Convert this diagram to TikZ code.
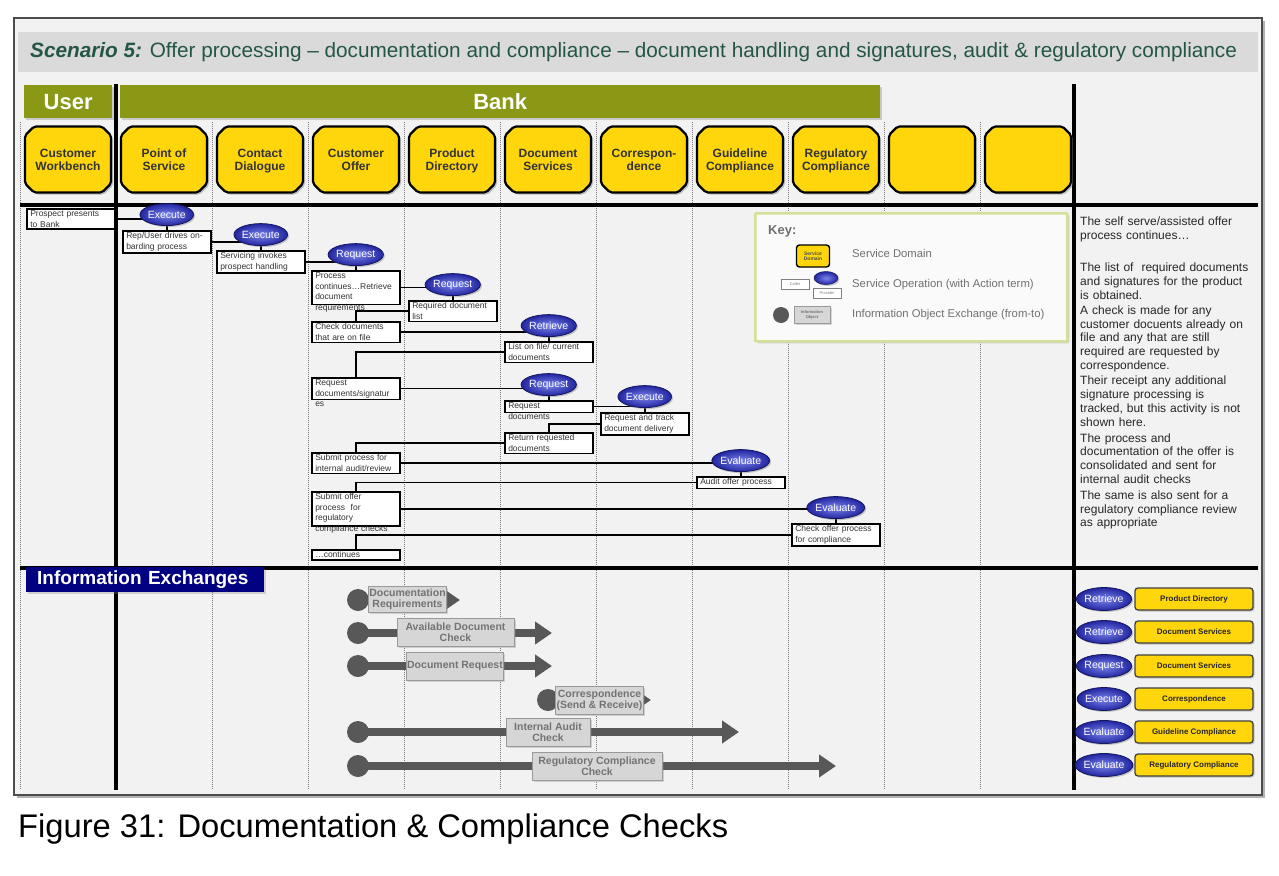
\documentclass[tikz,border=0pt]{standalone}
\usepackage{fontspec}
\setmainfont{Liberation Sans}
\usepackage{xcolor}
\usepackage{tikz}
\usetikzlibrary{shapes.geometric, shapes.misc, arrows.meta, positioning, shadows}
\definecolor{olivehead}{RGB}{138,152,22}
\definecolor{sdyellow}{RGB}{255,214,12}
\definecolor{opblue}{RGB}{34,38,160}
\definecolor{oplight}{RGB}{122,132,236}
\definecolor{navyhead}{RGB}{0,0,128}
\definecolor{titlegreen}{RGB}{36,86,70}
\definecolor{panelgray}{RGB}{242,242,242}
\definecolor{bandgray}{RGB}{218,218,218}
\definecolor{ixgray}{RGB}{88,88,88}
\definecolor{ixfill}{RGB}{214,214,214}
\definecolor{keyedge}{RGB}{212,224,150}
\definecolor{keytext}{RGB}{112,112,112}
\definecolor{lanegray}{RGB}{120,120,120}
\pgfdeclarelayer{lanes}
\pgfdeclarelayer{wires}
\pgfsetlayers{lanes,wires,main}
\tikzset{
  frame/.style={draw=black!70, line width=2pt, fill=panelgray,
    drop shadow={shadow xshift=3pt, shadow yshift=-3pt, opacity=0.6}},
  header/.style={fill=olivehead, text=white, inner sep=0pt, anchor=north west,
    minimum height=33pt, font=\fontsize{22}{24}\selectfont\bfseries,
    drop shadow={shadow xshift=2pt, shadow yshift=-2pt, opacity=0.35}},
  infohead/.style={fill=navyhead, text=white, anchor=north west, inner xsep=11pt,
    inner ysep=0pt, minimum height=25pt, text width=216pt, align=left,
    font=\fontsize{19}{20}\selectfont\bfseries,
    drop shadow={shadow xshift=2pt, shadow yshift=-2pt, opacity=0.3}},
  sdbox/.style={chamfered rectangle, chamfered rectangle xsep=4.5pt,
    chamfered rectangle ysep=4.5pt, rounded corners=2pt, draw=black,
    line width=2.2pt, fill=sdyellow, minimum width=86pt, minimum height=66pt,
    inner sep=0pt, align=center, text=black!80,
    text height=22.5pt, text depth=0.5pt,
    font=\fontsize{12}{13.5}\selectfont\bfseries,
    drop shadow={shadow xshift=2pt, shadow yshift=-2pt, opacity=0.45}},
  msgbox/.style={draw, line width=1.5pt, fill=white, anchor=north west,
    text width=81pt, inner xsep=3.5pt, inner ysep=2pt, align=left,
    text=black!80, font=\fontsize{8.5}{10.5}\selectfont},
  op/.style={ellipse, minimum width=52pt, minimum height=22pt, inner sep=0pt,
    draw=opblue!60!black, line width=0.8pt, inner color=oplight,
    outer color=opblue, text=white, font=\fontsize{10.5}{12}\selectfont,
    drop shadow={shadow xshift=1.5pt, shadow yshift=-1.5pt, opacity=0.4}},
  wire/.style={line width=1.5pt, black},
  lane/.style={lanegray, line width=0.8pt, dash pattern=on 1pt off 1pt},
  divider/.style={black, line width=3.5pt},
  keyframe/.style={draw=keyedge, line width=2.5pt, fill=white!60!panelgray,
    rounded corners=1pt, anchor=north west, minimum width=312pt,
    minimum height=128pt,
    drop shadow={shadow xshift=2pt, shadow yshift=-2pt, opacity=0.3}},
  keylabel/.style={anchor=west, inner sep=0pt, text=keytext,
    font=\fontsize{11.3}{13}\selectfont},
  keysd/.style={rounded corners=3pt, fill=sdyellow, draw=black, line width=1.4pt,
    minimum width=33pt, minimum height=22pt, inner sep=0pt, align=center,
    text=black!70, font=\fontsize{5}{5.5}\selectfont\bfseries},
  keyio/.style={draw=black!50, fill=white, line width=0.6pt, minimum width=28pt,
    minimum height=10pt, inner sep=0pt, text=black!50,
    font=\fontsize{4}{4}\selectfont},
  sdtag/.style={rounded corners=3pt, fill=sdyellow, draw=black!75,
    line width=1.3pt, minimum width=118pt, minimum height=22pt, inner sep=0pt,
    text=black!85, font=\fontsize{8}{9}\selectfont\bfseries,
    drop shadow={shadow xshift=1.5pt, shadow yshift=-1.5pt, opacity=0.4}},
  ixbox/.style={fill=ixfill, draw=black!40, line width=0.8pt, align=center,
    inner sep=1pt, text=black!55, font=\fontsize{10.5}{11}\selectfont\bfseries,
    drop shadow={shadow xshift=1.5pt, shadow yshift=-1.5pt, opacity=0.3}},
  ixdot/.style={circle, fill=ixgray, minimum size=22pt, inner sep=0pt},
  ixbar/.style={ixgray, line width=8pt, -{Triangle[length=17pt, width=22pt]}},
}
\begin{document}
\begin{tikzpicture}[x=1pt, y=-1pt]
  \useasboundingbox (0,0) rectangle (1279,875);

  % Sheet, title band and lanes
  \begin{pgfonlayer}{lanes}
    \fill[white] (0,0) rectangle (1279,875);
    \draw[frame] (14,18) rectangle (1262,795);
    \fill[bandgray] (18,32) rectangle (1258,72);
    \draw[lane] (20,122) -- (20,790);   \draw[lane] (212,122) -- (212,790);
    \draw[lane] (308,122) -- (308,790); \draw[lane] (404,122) -- (404,790);
    \draw[lane] (500,122) -- (500,790); \draw[lane] (596,122) -- (596,790);
    \draw[lane] (692,122) -- (692,790); \draw[lane] (788,122) -- (788,790);
    \draw[lane] (884,122) -- (884,790); \draw[lane] (980,122) -- (980,790);
    \draw[divider] (116,84) -- (116,790);
    \draw[divider] (1074,84) -- (1074,790);
    \draw[divider, line width=4pt] (20,205) -- (1258,205);
    \draw[divider] (20,568) -- (1258,568);
  \end{pgfonlayer}

  \node[anchor=west, inner sep=0pt, text=titlegreen,
    font=\fontsize{20.75}{24}\selectfont] (title) at (30,52)
    {\textbf{\textit{Scenario 5:}} Offer processing – documentation and compliance – document handling and signatures, audit \& regulatory compliance};

  % Party headers
  \node[header, minimum width=88pt] (user) at (24,85) {User};
  \node[header, minimum width=760pt] (bank) at (120,85) {Bank};

  % Service domains
  \node[sdbox] (cwb) at (68,159.5) {Customer\\Workbench};
  \node[sdbox] (pos) at (164,159.5) {Point of\\Service};
  \node[sdbox] (cdl) at (260,159.5) {Contact\\Dialogue};
  \node[sdbox] (cof) at (356,159.5) {Customer\\Offer};
  \node[sdbox] (pdir) at (452,159.5) {Product\\Directory};
  \node[sdbox] (dsv) at (548,159.5) {Document\\Services};
  \node[sdbox] (cor) at (644,159.5) {Correspon-\\dence};
  \node[sdbox] (gcm) at (740,159.5) {Guideline\\Compliance};
  \node[sdbox] (rcm) at (836,159.5) {Regulatory\\Compliance};
  \node[sdbox] (sd10) at (932,159.5) {\phantom{X}\\\phantom{X}};
  \node[sdbox] (sd11) at (1028,159.5) {\phantom{X}\\\phantom{X}};

  % Message boxes
  \node[msgbox] (prospect) at (26,208) {Prospect presents\\to Bank};
  \node[msgbox] (onboard) at (122,230) {Rep/User drives on-\\barding process};
  \node[msgbox] (invoke) at (216,250) {Servicing invokes\\prospect handling};
  \node[msgbox, text depth=24pt] (procreq) at (311,270)
    {Process\\continues…Retrieve\\document\\requirements};
  \node[msgbox] (reqlist) at (408,300) {Required document\\list};
  \node[msgbox] (chkfile) at (311,321) {Check documents\\that are on file};
  \node[msgbox] (onfile) at (504,341) {List on file/ current\\documents};
  \node[msgbox, text depth=12pt] (reqsig) at (311,377)
    {Request\\documents/signatur\\es};
  \node[msgbox, text depth=2pt] (reqdocs) at (504,400) {Request\\documents};
  \node[msgbox] (track) at (600,412) {Request and track\\document delivery};
  \node[msgbox] (returned) at (504,432) {Return requested\\documents};
  \node[msgbox] (subaudit) at (311,452) {Submit process for\\internal audit/review};
  \node[msgbox] (auditoffer) at (696,476) {Audit offer process};
  \node[msgbox, text depth=24pt] (subreg) at (311,491)
    {Submit offer\\process\ \ for\\regulatory\\compliance checks};
  \node[msgbox] (chkcomp) at (791,523) {Check offer process\\for compliance};
  \node[msgbox] (cont) at (311,549) {…continues};

  % Service operations
  \node[op, above=4pt of onboard.north] (ex1) {Execute};
  \node[op, above=4pt of invoke.north] (ex2) {Execute};
  \node[op, above=4pt of procreq.north] (rq1) {Request};
  \node[op, above=4pt of reqlist.north] (rq2) {Request};
  \node[op, above=4pt of onfile.north] (ret1) {Retrieve};
  \node[op, above=4pt of reqdocs.north] (rq3) {Request};
  \node[op, above=4pt of track.north] (ex3) {Execute};
  \node[op, above=4pt of auditoffer.north] (ev1) {Evaluate};
  \node[op, above=4pt of chkcomp.north] (ev2) {Evaluate};

  % Key
  \node[keyframe] (key) at (754,212) {};
  \node[anchor=west, inner sep=0pt, text=keytext,
    font=\fontsize{13}{15}\selectfont\bfseries] (keytitle) at (768,231) {Key:};
  \node[keysd] (ksd) at (813,256) {Service\\Domain};
  \node[keylabel] (klab1) at (852,253) {Service Domain};
  \node[keyio] (kcaller) at (795,284) {Caller};
  \node[op, minimum width=24pt, minimum height=13pt, line width=0.5pt] (kop)
    at (826,278) {};
  \node[keyio] (kprov) at (827,293) {Provider};
  \node[keylabel] (klab2) at (852,285) {Service Operation (with Action term)};
  \node[ixdot, minimum size=16pt] (kdot) at (781,315) {};
  \coordinate (ktip) at (846,315);
  \node[ixbox, minimum width=36pt, minimum height=17pt,
    font=\fontsize{4}{4.5}\selectfont\bfseries] (kbox) at (812,315)
    {Information\\Object};
  \node[keylabel] (klab3) at (852,315) {Information Object Exchange (from-to)};

  % Notes
  \node[anchor=north west, inner sep=0pt, text width=180pt, align=left,
    text=black!85, font=\fontsize{12}{13.8}\selectfont] (notes) at (1080,217)
    {The self serve/assisted offer\\process continues…\\[18pt]
     The list of\ \ required documents\\and signatures for the product\\is obtained.\\[1.5pt]
     A check is made for any\\customer docuents already on\\file and any that are still\\required are requested by\\correspondence.\\[1.5pt]
     Their receipt any additional\\signature processing is\\tracked, but this activity is not\\shown here.\\[2pt]
     The process and\\documentation of the offer is\\consolidated and sent for\\internal audit checks\\[2pt]
     The same is also sent for a\\regulatory compliance review\\as appropriate};

  % Information exchanges
  \node[infohead] (ixhead) at (26,567) {Information Exchanges};
  \node[ixdot] (d1) at (358,600) {};
  \node[ixdot] (d2) at (358,633) {};
  \node[ixdot] (d3) at (358,666) {};
  \node[ixdot] (d4) at (548,700) {};
  \node[ixdot] (d5) at (358,732) {};
  \node[ixdot] (d6) at (358,766) {};
  \coordinate (t1) at (460,600); \coordinate (t2) at (552,633);
  \coordinate (t3) at (552,666); \coordinate (t4) at (651,700);
  \coordinate (t5) at (739,732); \coordinate (t6) at (836,766);
  \node[ixbox, minimum width=77pt, minimum height=26pt] (x1) at (407.5,599)
    {Documentation\\Requirements};
  \node[ixbox, minimum width=117pt, minimum height=28pt] (x2) at (455.5,632)
    {Available Document\\Check};
  \node[ixbox, minimum width=96pt, minimum height=28pt] (x3) at (455,666)
    {Document Request};
  \node[ixbox, minimum width=87pt, minimum height=28pt] (x4) at (599.5,700)
    {Correspondence\\(Send \& Receive)};
  \node[ixbox, minimum width=84pt, minimum height=28pt] (x5) at (548,732)
    {Internal Audit\\Check};
  \node[ixbox, minimum width=130pt, minimum height=28pt] (x6) at (597,766)
    {Regulatory Compliance\\Check};

  % Operation summary
  \node[op, minimum height=23pt] (lr1) at (1104,599) {Retrieve};
  \node[op, minimum height=23pt] (lr2) at (1104,632) {Retrieve};
  \node[op, minimum height=23pt] (lr3) at (1104,666) {Request};
  \node[op, minimum height=23pt] (lr4) at (1104,699) {Execute};
  \node[op, minimum height=23pt] (lr5) at (1104,732) {Evaluate};
  \node[op, minimum height=23pt] (lr6) at (1104,765) {Evaluate};
  \node[sdtag] (lt1) at (1194,599) {Product Directory};
  \node[sdtag] (lt2) at (1194,632) {Document Services};
  \node[sdtag] (lt3) at (1194,666) {Document Services};
  \node[sdtag] (lt4) at (1194,699) {Correspondence};
  \node[sdtag] (lt5) at (1194,732) {Guideline Compliance};
  \node[sdtag] (lt6) at (1194,765) {Regulatory Compliance};

  \node[anchor=west, inner sep=0pt, font=\fontsize{32.7}{36}\selectfont]
    (caption) at (18,829) {Figure 31: Documentation \& Compliance Checks};

  % Connectors
  \begin{pgfonlayer}{wires}
    \draw[wire] (prospect.east) -- (prospect.east -| ex1.center);
    \draw[wire] (ex1) -- (onboard.north -| ex1);
    \draw[wire] (onboard.east) -- (onboard.east -| ex2.center);
    \draw[wire] (ex2) -- (invoke.north -| ex2);
    \draw[wire] (invoke.east) -- (invoke.east -| rq1.center);
    \draw[wire] (rq1) -- (procreq.north -| rq1);
    \draw[wire] (procreq.east) -- (procreq.east -| rq2.center);
    \draw[wire] (rq2) -- (reqlist.north -| rq2);
    \draw[wire] (reqlist.west) -| (chkfile.north);
    \draw[wire] (chkfile.east) -- (chkfile.east -| ret1.center);
    \draw[wire] (ret1) -- (onfile.north -| ret1);
    \draw[wire] (onfile.west) -| (reqsig.north);
    \draw[wire] (reqsig.east) -- (reqsig.east -| rq3.center);
    \draw[wire] (rq3) -- (reqdocs.north -| rq3);
    \draw[wire] (reqdocs.east) -- (reqdocs.east -| ex3.center);
    \draw[wire] (ex3) -- (track.north -| ex3);
    \draw[wire] (track.west) -| (returned.north);
    \draw[wire] (returned.west) -| (subaudit.north);
    \draw[wire] (subaudit.east) -- (subaudit.east -| ev1.center);
    \draw[wire] (ev1) -- (auditoffer.north -| ev1);
    \draw[wire] (auditoffer.west) -| (subreg.north);
    \draw[wire] (subreg.east) -- (subreg.east -| ev2.center);
    \draw[wire] (ev2) -- (chkcomp.north -| ev2);
    \draw[wire] (chkcomp.west) -| (cont.north);
    % key
    \draw[line width=0.8pt, black!60] (kcaller.east) -- (kcaller.east -| kop.center);
    \draw[line width=0.8pt, black!60] (kop) -- (kprov.north -| kop);
    \draw[ixbar, line width=5pt, -{Triangle[length=10pt, width=13pt]}]
      (kdot.center) -- (ktip);
    % exchanges
    \draw[ixbar] (d1.center) -- (t1); \draw[ixbar] (d2.center) -- (t2);
    \draw[ixbar] (d3.center) -- (t3); \draw[ixbar] (d4.center) -- (t4);
    \draw[ixbar] (d5.center) -- (t5); \draw[ixbar] (d6.center) -- (t6);
  \end{pgfonlayer}
\end{tikzpicture}
\end{document}
